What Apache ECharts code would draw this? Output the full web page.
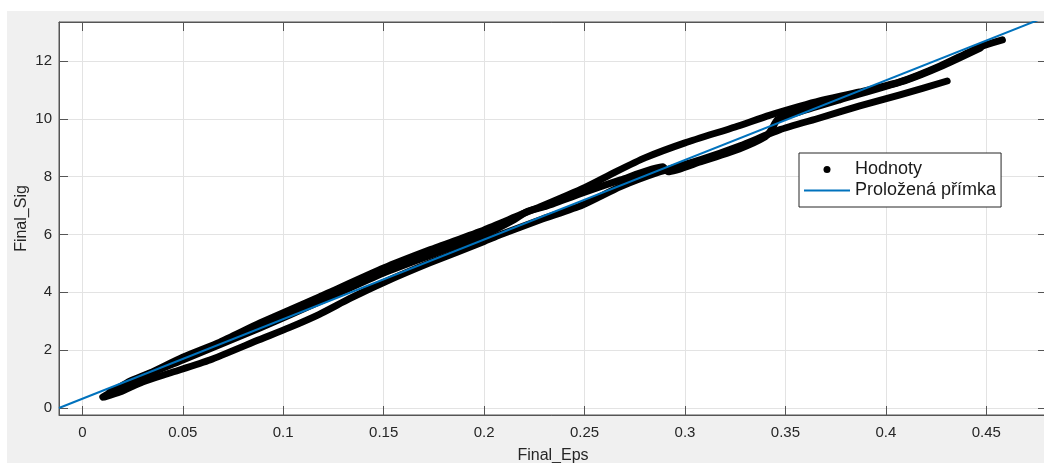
<!DOCTYPE html>
<html>
<head>
<meta charset="utf-8">
<script src="https://cdn.jsdelivr.net/npm/echarts@6/dist/echarts.min.js"></script>
<style>
  html, body { margin: 0; padding: 0; background: #fff; }
  #wrap { position: relative; width: 1044px; height: 463px; overflow: hidden; }
  #bg { position: absolute; left: 7px; top: 11px; right: 0; bottom: 0; background: #f0f0f0; }
  #chart { position: absolute; left: 0; top: 0; width: 1044px; height: 463px; }
</style>
</head>
<body>
<div id="wrap"><div id="bg"></div><div id="chart"></div></div>
<script>
// ---- data ----
const xTicks = [0, 0.05, 0.1, 0.15, 0.2, 0.25, 0.3, 0.35, 0.4, 0.45];
const yTicks = [0, 2, 4, 6, 8, 10, 12];

// branch A: first loading, upper band and upper loop
const branchAx = [0.0102, 0.0162, 0.0237, 0.0336, 0.050, 0.0685, 0.0884, 0.118, 0.150, 0.173, 0.200, 0.218, 0.228, 0.250, 0.265, 0.280, 0.300, 0.325, 0.342, 0.357, 0.367, 0.387, 0.407, 0.427, 0.447, 0.458];
const branchAy = [0.38, 0.62, 0.93, 1.21, 1.76, 2.28, 2.94, 3.84, 4.84, 5.47, 6.16, 6.68, 6.96, 7.62, 8.15, 8.65, 9.17, 9.72, 10.12, 10.43, 10.62, 10.93, 11.28, 11.83, 12.49, 12.73];

// branch B: long lower curve (unloading)
const branchBx = [0.4305, 0.407, 0.387, 0.367, 0.347, 0.3275, 0.3075, 0.2876, 0.2677, 0.249, 0.228, 0.208, 0.200, 0.173, 0.150, 0.133, 0.118, 0.103, 0.088, 0.0635, 0.0436, 0.030, 0.0187, 0.0112];
const branchBy = [11.31, 10.83, 10.45, 10.03, 9.62, 9.07, 8.58, 8.17, 7.65, 7.02, 6.51, 5.99, 5.76, 5.02, 4.34, 3.78, 3.24, 2.78, 2.36, 1.66, 1.21, 0.90, 0.55, 0.38];

// branch C: reloading, middle strand with step and bump
const branchCx = [0.0137, 0.0286, 0.050, 0.0884, 0.118, 0.150, 0.200, 0.215, 0.221, 0.230, 0.249, 0.268, 0.289, 0.2916, 0.3075, 0.327, 0.340, 0.343, 0.346, 0.357, 0.377, 0.4106, 0.427, 0.447];
const branchCy = [0.55, 1.04, 1.66, 2.77, 3.67, 4.67, 5.99, 6.51, 6.78, 6.96, 7.44, 7.89, 8.34, 8.17, 8.51, 8.96, 9.38, 9.62, 9.97, 10.24, 10.66, 11.35, 11.80, 12.45];

// fitted straight line, end points
const fitX = [-0.0116, 0.4802];
const fitY = [0.0, 13.54];

const xMin = -0.0116, xMax = 0.4802;
const yMin = -0.242, yMax = 13.35;

function pairs(xs, ys) { return xs.map((x, i) => [x, ys[i]]); }

const chart = echarts.init(document.getElementById('chart'), null, { renderer: 'canvas' });

const axisColor = '#555555';
const textColor = '#262626';
const font = "'Liberation Sans', Arial, sans-serif";

function dataSeries(xs, ys) {
  return {
    name: 'Hodnoty', type: 'line', data: pairs(xs, ys),
    symbol: 'none', showSymbol: false, smooth: 0.2,
    lineStyle: { color: '#000', width: 7, cap: 'round', join: 'round' },
    itemStyle: { color: '#000' },
    z: 2
  };
}

chart.setOption({
  animation: false,
  backgroundColor: 'transparent',
  textStyle: { fontFamily: font },
  grid: {
    left: 59, top: 22, width: 988, height: 393,
    show: true, backgroundColor: '#ffffff', borderColor: axisColor, borderWidth: 1,
    containLabel: false, outerBoundsMode: 'none'
  },
  legend: {
    orient: 'vertical', left: 799, top: 153,
    padding: [6, 5, 6, 5], itemGap: 0,
    itemWidth: 46, itemHeight: 7,
    backgroundColor: '#ffffff', borderColor: '#262626', borderWidth: 1, borderRadius: 0,
    textStyle: { fontSize: 18, color: '#1a1a1a', lineHeight: 21, fontFamily: font },
    data: [
      { name: 'Hodnoty', icon: 'circle' },
      { name: 'Proložená přímka', icon: 'path://M0,0 L46,0 L46,2 L0,2 Z' }
    ]
  },
  xAxis: [{
    type: 'value', min: xMin, max: xMax, position: 'bottom',
    name: 'Final_Eps', nameLocation: 'middle', nameGap: 33, nameMoveOverlap: false,
    nameTextStyle: { fontSize: 16, color: textColor, fontFamily: font },
    axisLine: { show: true, onZero: false, lineStyle: { color: axisColor } },
    axisTick: { show: true, inside: true, length: 9, lineStyle: { color: axisColor }, customValues: xTicks },
    axisLabel: { show: true, fontSize: 15, color: textColor, margin: 10, customValues: xTicks, fontFamily: font },
    splitLine: { show: true, lineStyle: { color: '#e3e3e3', width: 1 } }
  }, {
    type: 'value', min: xMin, max: xMax, position: 'top',
    axisLine: { show: true, onZero: false, lineStyle: { color: axisColor } },
    axisTick: { show: true, inside: true, length: 9, lineStyle: { color: axisColor }, customValues: xTicks },
    axisLabel: { show: false, customValues: xTicks },
    splitLine: { show: false }
  }],
  yAxis: [{
    type: 'value', min: yMin, max: yMax, position: 'left',
    name: 'Final_Sig', nameLocation: 'middle', nameGap: 29, nameRotate: 90, nameMoveOverlap: false,
    nameTextStyle: { fontSize: 16, color: textColor, fontFamily: font },
    axisLine: { show: true, onZero: false, lineStyle: { color: axisColor } },
    axisTick: { show: true, inside: true, length: 9, lineStyle: { color: axisColor }, customValues: yTicks },
    axisLabel: { show: true, fontSize: 15, color: textColor, margin: 7, customValues: yTicks, fontFamily: font },
    splitLine: { show: true, lineStyle: { color: '#e3e3e3', width: 1 } }
  }, {
    type: 'value', min: yMin, max: yMax, position: 'right',
    axisLine: { show: true, onZero: false, lineStyle: { color: axisColor } },
    axisTick: { show: true, inside: true, length: 9, lineStyle: { color: axisColor }, customValues: yTicks },
    axisLabel: { show: false, customValues: yTicks },
    splitLine: { show: false }
  }],
  series: [
    dataSeries(branchAx, branchAy),
    dataSeries(branchBx, branchBy),
    dataSeries(branchCx, branchCy),
    {
      name: 'Proložená přímka', type: 'line', data: pairs(fitX, fitY),
      symbol: 'none', showSymbol: false, clip: true,
      lineStyle: { color: '#0072BD', width: 2 },
      itemStyle: { color: '#0072BD' },
      z: 3
    }
  ]
});
</script>
</body>
</html>
